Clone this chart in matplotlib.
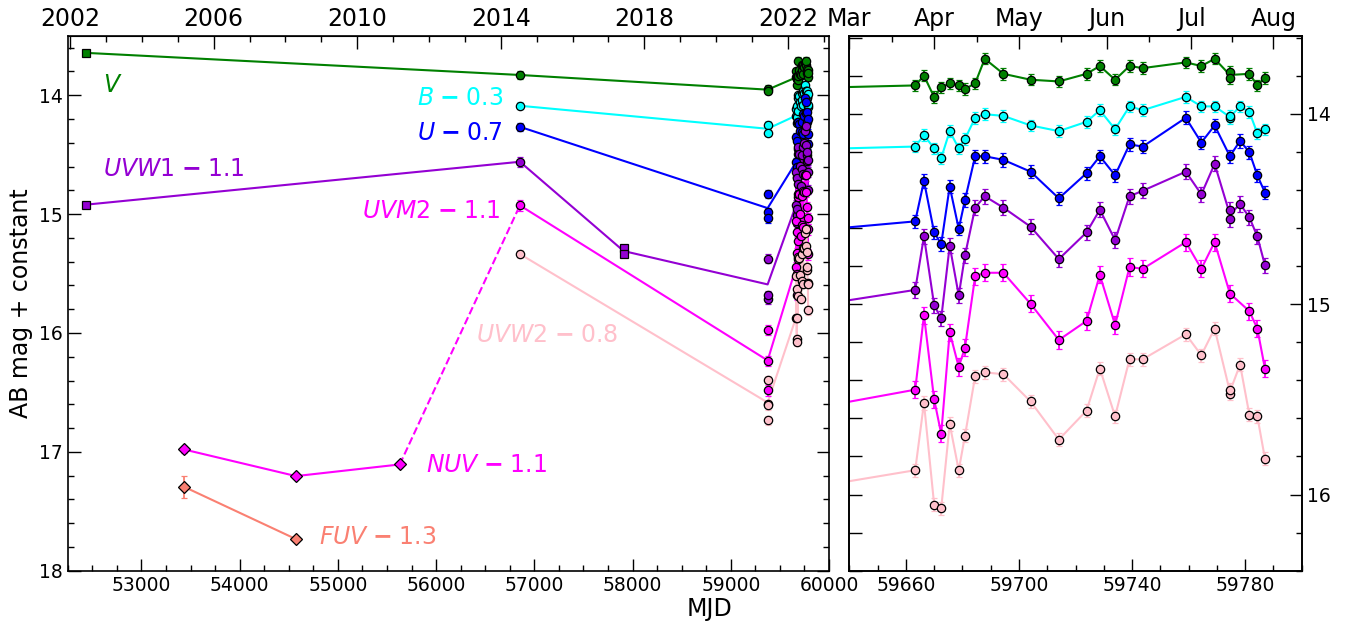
import numpy as np
import pandas as pd
import matplotlib
matplotlib.use("Agg")
import matplotlib.pyplot as plt
from matplotlib.ticker import MultipleLocator, FixedLocator, FixedFormatter

# 2022 monitoring epochs (MJD)
t22 = [59663.3, 59666.4, 59670.0, 59672.5, 59675.5, 59678.7, 59680.9, 59684.5,
       59687.9, 59694.5, 59704.1, 59714.1, 59723.9, 59728.6, 59734.0, 59739.1,
       59743.8, 59759.0, 59764.5, 59769.2, 59774.6, 59774.6, 59778.2, 59781.5,
       59784.3, 59787.0]
nan = np.nan
v22 = [13.851, 13.800, 13.912, 13.861, 13.840, 13.851, 13.870, 13.840, 13.711,
       13.790, 13.821, 13.830, 13.790, 13.749, 13.821, 13.749, 13.760, 13.730,
       13.749, 13.711, 13.781, 13.811, nan, 13.790, 13.851, 13.811]
b22 = [14.172, 14.112, 14.182, 14.232, 14.091, 14.182, 14.132, 14.021, 14.002,
       14.011, 14.061, 14.091, 14.042, 13.981, 14.081, 13.961, 13.981, 13.911,
       13.961, 13.961, 14.021, 14.012, 13.961, 13.991, 14.102, 14.081]
u22 = [14.565, 14.353, 14.623, 14.684, 14.382, 14.604, 14.453, 14.223, 14.223,
       14.242, 14.304, 14.444, 14.312, 14.223, 14.323, 14.161, 14.172, 14.021,
       14.151, 14.061, 14.223, nan, 14.142, 14.202, 14.323, 14.414]
w1_22 = [14.925, 14.644, 15.005, 15.075, 14.693, 14.954, 14.744, 14.493, 14.433,
         14.493, 14.593, 14.763, 14.623, 14.504, 14.663, 14.433, 14.404, 14.304,
         14.423, 14.263, 14.504, 14.553, 14.474, 14.544, 14.644, 14.795]
m2_22 = [15.449, 15.058, 15.500, 15.681, 15.147, 15.330, 15.228, 14.854, 14.835,
         14.835, 14.998, 15.188, 15.088, 14.846, 15.109, 14.805, 14.814, 14.674,
         14.814, 14.674, 14.944, nan, nan, 15.037, 15.128, 15.338]
w2_22 = [15.872, 15.519, 16.053, 16.072, 15.630, 15.872, 15.691, 15.379, 15.358,
         15.368, 15.511, 15.711, 15.559, 15.338, 15.589, 15.289, 15.289, 15.158,
         15.268, 15.128, 15.470, 15.449, 15.317, 15.581, 15.589, 15.811]

# earlier photometry (squares = archival ground/OM points)
v_sq_t, v_sq = [52435], [13.644]
v_t, v_m = [56853, 59375, 59375], [13.830, 13.945, 13.962]
b_t, b_m = [56853, 59375, 59375], [14.089, 14.249, 14.316]
u_t, u_m = [56853, 59375, 59375, 59375], [14.266, 14.834, 14.980, 15.036]
w1_sq_t, w1_sq = [52435, 57909, 57909], [14.921, 15.283, 15.339]
w1_t, w1_m = [56853, 59375, 59375, 59375], [14.560, 15.375, 15.717, 15.683]
m2_t, m2_m = [56853, 59375, 59375, 59375], [14.927, 15.975, 16.235, 16.484]
w2_t, w2_m = [56853, 59375, 59375, 59375, 59375], [15.336, 16.395, 16.600, 16.610, 16.736]

# GALEX
nuv_t, nuv_m, nuv_e = [53434, 54573, 55630], [16.980, 17.204, 17.106], [0.03, 0.02, 0.02]
fuv_t, fuv_m, fuv_e = [53434, 54573], [17.294, 17.734], [0.093, 0.02]


def lab(name, off):
    # band name with a heavy minus sign for the offset
    if off is None:
        return r'$%s$' % name
    return r'$%s\;\mathbf{-}\;%s$' % (name, off)


bands = [
    # label, squares t/m, circles t/m, color, err, label x, label y, ha
    (lab('V', None), v_sq_t, v_sq, v_t + t22, v_m + v22, 'green', 0.03, 52613, 13.918, 'left'),
    (lab('B', '0.3'), [], [], b_t + t22, b_m + b22, 'cyan', 0.03, 56690, 14.022, 'right'),
    (lab('U', '0.7'), [], [], u_t + t22, u_m + u22, 'blue', 0.035, 56677, 14.316, 'right'),
    (lab('UVW1', '1.1'), w1_sq_t, w1_sq, w1_t + t22, w1_m + w1_22, 'darkviolet', 0.04, 52609, 14.618, 'left'),
    (lab('UVM2', '1.1'), [], [], m2_t + t22, m2_m + m2_22, 'magenta', 0.045, 56659, 14.977, 'right'),
    (lab('UVW2', '0.8'), [], [], w2_t + t22, w2_m + w2_22, 'pink', 0.035, 56405, 16.019, 'left'),
]


def mjd2yr(x):
    return 2000.0 + (np.asarray(x) - 51544.5) / 365.25


def yr2mjd(y):
    return 51544.5 + (np.asarray(y) - 2000.0) * 365.25


def points(ax, t, m, e, color, marker='o', ms=6):
    ax.errorbar(t, m, yerr=e, fmt=marker, color=color, mfc=color, mec='k',
                ms=ms, mew=0.9, ecolor=color, elinewidth=1.3, capsize=2.5,
                capthick=1.3, zorder=3)


def joined(t, m):
    # average repeated visits so the line passes through one point per epoch
    s = pd.Series(m, index=t, dtype=float).dropna()
    s = s.groupby(level=0).mean().sort_index()
    return s.index.values, s.values


fig = plt.figure(figsize=(13.52, 6.26), dpi=100)
ax1 = fig.add_axes([0.0501, 0.0883, 0.5631, 0.8546])
ax2 = fig.add_axes([0.6282, 0.0883, 0.3346, 0.8546])

for text, sq_t, sq_m, t, m, c, err, lx, ly, ha in bands:
    lt, lm = joined(sq_t + t, sq_m + m)
    for ax in (ax1, ax2):
        ax.plot(lt, lm, '-', color=c, lw=1.5, zorder=2)
        points(ax, t, m, err, c)
    if sq_t:
        points(ax1, sq_t, sq_m, 0.02, c, marker='s', ms=6)
    ax1.text(lx, ly, text, color=c, fontsize=17, ha=ha, va='center')

# GALEX NUV / FUV
ax1.plot(nuv_t, nuv_m, '-', color='magenta', lw=1.5, zorder=2)
ax1.plot([nuv_t[-1], m2_t[0]], [nuv_m[-1], m2_m[0]], '--', color='magenta', lw=1.5, zorder=2)
points(ax1, nuv_t, nuv_m, nuv_e, 'magenta', marker='D', ms=6)
ax1.plot(fuv_t, fuv_m, '-', color='salmon', lw=1.5, zorder=2)
points(ax1, fuv_t, fuv_m, fuv_e, 'salmon', marker='D', ms=6)
ax1.text(55902, 17.112, lab('NUV', '1.1'), color='magenta', fontsize=17, va='center')
ax1.text(54805, 17.719, lab('FUV', '1.3'), color='salmon', fontsize=17, va='center')

# left panel: full history
ax1.set_xlim(52250, 60000)
ax1.set_ylim(18, 13.5)
ax1.xaxis.set_major_locator(MultipleLocator(1000))
ax1.xaxis.set_minor_locator(MultipleLocator(250))
ax1.yaxis.set_major_locator(MultipleLocator(1))
ax1.yaxis.set_minor_locator(MultipleLocator(0.2))
ax1.tick_params(which='both', direction='in', left=True, right=True, bottom=True, top=False,
                labelsize=13.5, width=1)
ax1.tick_params(which='major', length=9)
ax1.tick_params(which='minor', length=4.5)
ax1.set_ylabel('AB mag + constant', fontsize=17)

top1 = ax1.secondary_xaxis('top', functions=(mjd2yr, yr2mjd))
top1.xaxis.set_major_locator(FixedLocator([2002, 2006, 2010, 2014, 2018, 2022]))
top1.xaxis.set_minor_locator(MultipleLocator(1))
top1.tick_params(which='both', direction='in', labelsize=17, width=1, pad=3.5)
top1.tick_params(which='major', length=9)
top1.tick_params(which='minor', length=4.5)

# right panel: 2022 campaign
ax2.set_xlim(59640, 59800)
ax2.set_ylim(16.4, 13.59)
ax2.xaxis.set_major_locator(FixedLocator([59660, 59700, 59740, 59780]))
ax2.xaxis.set_minor_locator(MultipleLocator(10))
ax2.yaxis.set_major_locator(MultipleLocator(0.2))
ax2.tick_params(which='both', direction='in', left=True, right=False, bottom=True, top=False,
                labelleft=False, labelsize=13.5, width=1)
ax2.tick_params(which='major', length=9)
ax2.tick_params(which='minor', length=4.5)

ax2r = ax2.twinx()
ax2r.set_ylim(ax2.get_ylim())
ax2r.yaxis.set_major_locator(MultipleLocator(1))
ax2r.yaxis.set_minor_locator(MultipleLocator(0.2))
ax2r.tick_params(which='both', direction='in', labelsize=13.5, width=1)
ax2r.tick_params(which='major', length=9)
ax2r.tick_params(which='minor', length=4.5)

top2 = ax2.secondary_xaxis('top')
top2.xaxis.set_major_locator(FixedLocator([59640, 59670, 59700, 59731, 59761, 59790]))
top2.xaxis.set_major_formatter(FixedFormatter(['Mar', 'Apr', 'May', 'Jun', 'Jul', 'Aug']))
top2.xaxis.set_minor_locator(FixedLocator([59655, 59685, 59715, 59746, 59775.5]))
top2.tick_params(which='both', direction='in', labelsize=17, width=1, pad=3.5)
top2.tick_params(which='major', length=9)
top2.tick_params(which='minor', length=4.5)

for ax in (ax1, ax2, ax2r):
    for sp in ax.spines.values():
        sp.set_linewidth(1.2)

fig.text(0.525, 0.027, 'MJD', fontsize=17, ha='center', va='center')

fig.savefig('out.png', dpi=100)
